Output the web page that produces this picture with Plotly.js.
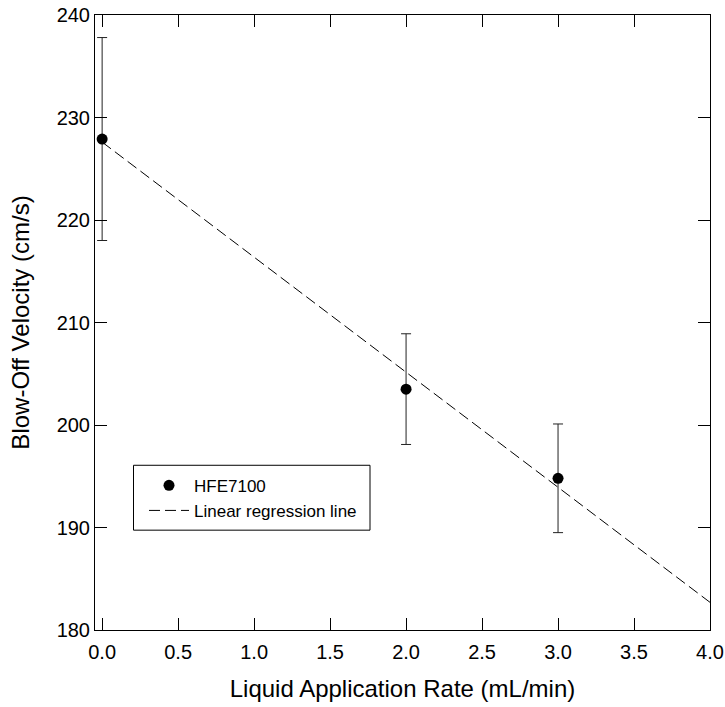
<!DOCTYPE html>
<html>
<head>
<meta charset="utf-8">
<script src="https://cdn.plot.ly/plotly-3.0.1.min.js"></script>
<style>html,body{margin:0;padding:0;background:#fff;}#chart{width:725px;height:707px;}</style>
</head>
<body>
<div id="chart"></div>
<script>
// Measured data
const rates = [0, 2, 3];
const velocity = [227.9, 203.5, 194.8];
const velocityErr = [9.9, 5.4, 5.3];
// Linear regression line endpoints
const fitX = [0, 4];
const fitY = [227.6, 182.7];
const xTicks = [0, 0.5, 1, 1.5, 2, 2.5, 3, 3.5, 4];
const xTickText = ['0.0','0.5','1.0','1.5','2.0','2.5','3.0','3.5','4.0'];
const yTicks = [180, 190, 200, 210, 220, 230, 240];

const W = 725, H = 707;
const L = 95, R = 710, T = 14.5, B = 630.5;
const px = v => (v - L) / (R - L);
const py = v => (B - v) / (B - T);

const traces = [
  {
    x: rates, y: velocity, type: 'scatter', mode: 'markers', name: 'HFE7100',
    marker: {color: '#000', size: 11},
    error_y: {type: 'data', array: velocityErr, visible: true, color: '#222', thickness: 1, width: 5}
  },
  {
    x: fitX, y: fitY, type: 'scatter', mode: 'lines', name: 'Linear regression line',
    line: {color: '#000', width: 1, dash: '11px,5px'}
  }
];

const font = {family: 'Arial, "Liberation Sans", sans-serif', color: '#000'};

const layout = {
  width: W, height: H,
  margin: {l: L, r: W - R, t: T, b: H - B, pad: 0},
  paper_bgcolor: '#fff', plot_bgcolor: '#fff',
  font: Object.assign({size: 20}, font),
  showlegend: true,
  legend: {
    x: px(144), y: py(468), xanchor: 'left', yanchor: 'top',
    bgcolor: 'rgba(0,0,0,0)', borderwidth: 0,
    font: Object.assign({size: 17}, font),
    tracegroupgap: 0, itemwidth: 40
  },
  xaxis: {
    range: [-0.047, 4.0],
    tickvals: xTicks, ticktext: xTickText,
    ticks: 'inside', ticklen: 12, tickcolor: '#000', tickwidth: 1,
    showline: true, linecolor: '#000', linewidth: 1, mirror: 'ticks',
    showgrid: false, zeroline: false,
    ticklabelstandoff: 4,
    tickfont: Object.assign({size: 20}, font),
    title: {text: 'Liquid Application Rate (mL/min)', font: Object.assign({size: 24}, font), standoff: 18}
  },
  yaxis: {
    range: [180, 240],
    tickvals: yTicks,
    ticks: 'inside', ticklen: 12, tickcolor: '#000', tickwidth: 1,
    showline: true, linecolor: '#000', linewidth: 1, mirror: 'ticks',
    showgrid: false, zeroline: false,
    tickfont: Object.assign({size: 20}, font),
    title: {text: 'Blow-Off Velocity (cm/s)', font: Object.assign({size: 24}, font), standoff: 20}
  },
  shapes: [
    {type: 'rect', xref: 'paper', yref: 'paper', x0: px(133.5), x1: px(370), y0: py(530.5), y1: py(465.5),
     line: {color: '#000', width: 1}, fillcolor: 'rgba(0,0,0,0)', layer: 'above'}
  ]
};

Plotly.newPlot('chart', traces, layout, {displayModeBar: false, staticPlot: true});
</script>
</body>
</html>
